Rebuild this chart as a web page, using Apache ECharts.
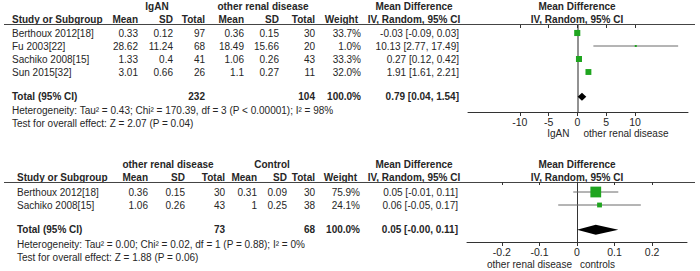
<!DOCTYPE html>
<html>
<head>
<meta charset="utf-8">
<script src="https://cdn.jsdelivr.net/npm/echarts@6/dist/echarts.min.js"></script>
<style>
  html, body { margin: 0; padding: 0; background: #fff; }
  #chart { width: 700px; height: 271px; }
</style>
</head>
<body>
<div id="chart"></div>
<script>
// ---- analysis 1: IgAN vs other renal disease
const topStudies = ['Berthoux 2012[18]', 'Fu 2003[22]', 'Sachiko 2008[15]', 'Sun 2015[32]'];
const topMean1 = [0.33, 28.62, 1.33, 3.01];
const topSd1 = [0.12, 11.24, 0.4, 0.66];
const topN1 = [97, 68, 41, 26];
const topMean2 = [0.36, 18.49, 1.06, 1.1];
const topSd2 = [0.15, 15.66, 0.26, 0.27];
const topN2 = [30, 20, 43, 11];
const topWeight = [33.7, 1.0, 33.3, 32.0];
const topMd = [-0.03, 10.13, 0.27, 1.91];
const topLo = [-0.09, 2.77, 0.12, 1.61];
const topHi = [0.03, 17.49, 0.42, 2.21];
const topTotal = { n1: 232, n2: 104, md: 0.79, lo: 0.04, hi: 1.54 };
const topHet = 'Heterogeneity: Tau\u00b2 = 0.43; Chi\u00b2 = 170.39, df = 3 (P < 0.00001); I\u00b2 = 98%';
const topTest = 'Test for overall effect: Z = 2.07 (P = 0.04)';
const topTicks = [-10, -5, 0, 5, 10];

// ---- analysis 2: other renal disease vs control
const botStudies = ['Berthoux 2012[18]', 'Sachiko 2008[15]'];
const botMean1 = [0.36, 1.06];
const botSd1 = [0.15, 0.26];
const botN1 = [30, 43];
const botMean2 = [0.31, 1];
const botSd2 = [0.09, 0.25];
const botN2 = [30, 38];
const botWeight = [75.9, 24.1];
const botMd = [0.05, 0.06];
const botLo = [-0.01, -0.05];
const botHi = [0.11, 0.17];
const botTotal = { n1: 73, n2: 68, md: 0.05, lo: -0.00, hi: 0.11 };
const botHet = 'Heterogeneity: Tau\u00b2 = 0.00; Chi\u00b2 = 0.02, df = 1 (P = 0.88); I\u00b2 = 0%';
const botTest = 'Test for overall effect: Z = 1.88 (P = 0.06)';
const botTicks = [-0.2, -0.1, 0, 0.1, 0.2];

const FONT = '"Liberation Sans", Arial, sans-serif';
const FS = 10;
const INK = '#262626';
const GREEN = '#1fa51f';

function f2(v) {
  const s = Math.abs(v).toFixed(2);
  return (v < 0 || Object.is(v, -0) ? '-' : '') + s;
}
function ci(md, lo, hi) { return f2(md) + ' [' + f2(lo) + ', ' + f2(hi) + ']'; }
function boxSize(w) { return Math.max(2, 0.52 * Math.pow(w, 0.7)); }

function panelSeries(gi, md, lo, hi, weight, total, diamondH) {
  const rows = md.map((_, i) => i);
  const totalRow = md.length + 0.9;
  return [
    {
      type: 'custom', xAxisIndex: gi * 2, yAxisIndex: gi, silent: true,
      data: md.map((_, i) => [lo[i], hi[i], rows[i]]),
      renderItem: (params, api) => {
        const a = api.coord([api.value(0), api.value(2)]);
        const b = api.coord([api.value(1), api.value(2)]);
        return { type: 'line', shape: { x1: a[0], y1: a[1], x2: b[0], y2: b[1] },
          style: { stroke: '#6a6a6a', lineWidth: 1 } };
      }
    },
    {
      type: 'scatter', xAxisIndex: gi * 2, yAxisIndex: gi, silent: true,
      symbol: 'rect',
      data: md.map((v, i) => ({ value: [v, rows[i]], symbolSize: boxSize(weight[i]) })),
      itemStyle: { color: GREEN, opacity: 1 },
      z: 3
    },
    {
      type: 'custom', xAxisIndex: gi * 2, yAxisIndex: gi, silent: true,
      data: [[total.lo, total.md, total.hi, totalRow]],
      renderItem: (params, api) => {
        const l = api.coord([api.value(0), api.value(3)]);
        const m = api.coord([api.value(1), api.value(3)]);
        const r = api.coord([api.value(2), api.value(3)]);
        const h = diamondH / 2;
        return { type: 'polygon',
          shape: { points: [[l[0], l[1]], [m[0], m[1] - h], [r[0], r[1]], [m[0], m[1] + h]] },
          style: { fill: '#000' } };
      },
      z: 4
    }
  ];
}

function xAxes(gi, min, max, ticks) {
  const base = {
    gridIndex: gi, type: 'value', min: min, max: max,
    splitLine: { show: false }
  };
  return [
    Object.assign({}, base, {
      axisLine: { show: true, onZero: false, lineStyle: { color: '#333', width: 1 } },
      axisTick: { show: true, inside: false, length: 4, customValues: ticks, lineStyle: { color: '#333' } },
      axisLabel: { show: true, customValues: ticks, margin: 4, color: INK, fontSize: 10.5, fontFamily: FONT }
    }),
    Object.assign({}, base, {
      axisLine: { show: false, onZero: false },
      axisTick: { show: true, inside: true, length: 3, customValues: ticks, lineStyle: { color: '#333' } },
      axisLabel: { show: false }
    })
  ];
}

function yAxis(gi, min, max, color, width) {
  return {
    gridIndex: gi, type: 'value', inverse: true, min: min, max: max,
    axisLine: { show: true, onZero: true, lineStyle: { color: color, width: width } },
    axisTick: { show: false }, axisLabel: { show: false }, splitLine: { show: false }
  };
}

const chart = echarts.init(document.getElementById('chart'), null, { renderer: 'svg' });

chart.setOption({
  animation: false,
  backgroundColor: '#fff',
  grid: [
    { left: 468, width: 220, top: 25, height: 87 },
    { left: 467, width: 220, top: 182, height: 60 }
  ],
  xAxis: [].concat(xAxes(0, -19, 19.2, topTicks), xAxes(1, -0.293, 0.293, botTicks)),
  yAxis: [
    yAxis(0, -8 / 13, 79 / 13, '#6e6e6e', 1.5),
    yAxis(1, -10 / 13, 50 / 13, '#333', 1)
  ],
  series: [].concat(
    panelSeries(0, topMd, topLo, topHi, topWeight, topTotal, 8),
    panelSeries(1, botMd, botLo, botHi, botWeight, botTotal, 10)
  )
});

// ---- table text
function txt(x, y, s, align, bold) {
  return {
    type: 'text', x: x, y: y, silent: true,
    style: { text: s, align: align || 'left', verticalAlign: 'middle',
      font: (bold ? 'bold ' : '') + FS + 'px ' + FONT, fill: INK }
  };
}
function hline(y, x1, x2) {
  return { type: 'line', silent: true, shape: { x1: x1, y1: y, x2: x2, y2: y },
    style: { stroke: '#444', lineWidth: 1 } };
}

function panelText(p) {
  const g = [];
  const c = p.cols;
  // group header row
  g.push(txt(p.g1x, p.groupY, p.g1, 'center', true));
  g.push(txt(p.g2x, p.groupY, p.g2, 'center', true));
  g.push(txt(414, p.groupY, 'Mean Difference', 'center', true));
  g.push(txt(577, p.groupY, 'Mean Difference', 'center', true));
  // column header row
  const hy = p.groupY + 13;
  g.push(txt(p.left, hy, 'Study or Subgroup', 'left', true));
  ['Mean', 'SD', 'Total', 'Mean', 'SD', 'Total'].forEach((h, i) => g.push(txt(c[i], hy, h, 'right', true)));
  g.push(txt(c[6] - 3, hy, 'Weight', 'right', true));
  g.push(txt(414, hy, 'IV, Random, 95% CI', 'center', true));
  g.push(txt(577, hy, 'IV, Random, 95% CI', 'center', true));
  g.push(hline(p.ruleY, 4, 695));
  // study rows
  p.studies.forEach((s, i) => {
    const y = chart.convertToPixel({ gridIndex: p.gi }, [0, i])[1];
    g.push(txt(p.left, y, s));
    [p.m1[i], p.s1[i], p.n1[i], p.m2[i], p.s2[i], p.n2[i]].forEach((v, k) => g.push(txt(c[k], y, String(v), 'right')));
    g.push(txt(c[6], y, p.w[i].toFixed(1) + '%', 'right'));
    g.push(txt(c[7], y, ci(p.md[i], p.lo[i], p.hi[i]), 'right'));
  });
  // total
  const ty = chart.convertToPixel({ gridIndex: p.gi }, [0, p.studies.length + 0.9])[1];
  g.push(txt(p.left, ty, 'Total (95% CI)', 'left', true));
  g.push(txt(c[2], ty, String(p.total.n1), 'right', true));
  g.push(txt(c[5], ty, String(p.total.n2), 'right', true));
  g.push(txt(c[6], ty, '100.0%', 'right', true));
  g.push(txt(c[7], ty, ci(p.total.md, p.total.lo, p.total.hi), 'right', true));
  g.push(txt(p.left, ty + p.hetGap, p.het));
  g.push(txt(p.left, ty + p.hetGap + 13, p.test));
  // favours labels
  const zx = chart.convertToPixel({ gridIndex: p.gi }, [0, 0])[0];
  g.push(txt(zx - p.favGap, p.favY, p.favL, 'right'));
  g.push(txt(zx + p.favGap - 2, p.favY, p.favR, 'left'));
  return g;
}

const graphic = [].concat(
  panelText({
    gi: 0, left: 12, groupY: 6, ruleY: 24.5,
    g1: 'IgAN', g1x: 157, g2: 'other renal disease', g2x: 263,
    cols: [138, 173, 205, 244, 279, 315, 361, 459],
    studies: topStudies, m1: topMean1, s1: topSd1, n1: topN1, m2: topMean2, s2: topSd2, n2: topN2,
    w: topWeight, md: topMd, lo: topLo, hi: topHi, total: topTotal,
    het: topHet, test: topTest, hetGap: 14,
    favL: 'IgAN', favR: 'other renal disease', favY: 133, favGap: 8
  }),
  panelText({
    gi: 1, left: 17, groupY: 164, ruleY: 182.5,
    g1: 'other renal disease', g1x: 168, g2: 'Control', g2x: 272,
    cols: [148, 185, 225, 257, 287, 315, 360, 458],
    studies: botStudies, m1: botMean1, s1: botSd1, n1: botN1, m2: botMean2, s2: botSd2, n2: botN2,
    w: botWeight, md: botMd, lo: botLo, hi: botHi, total: botTotal,
    het: botHet, test: botTest, hetGap: 15,
    favL: 'other renal disease', favR: 'controls', favY: 264, favGap: 5
  })
);

chart.setOption({ graphic: graphic });
</script>
</body>
</html>
